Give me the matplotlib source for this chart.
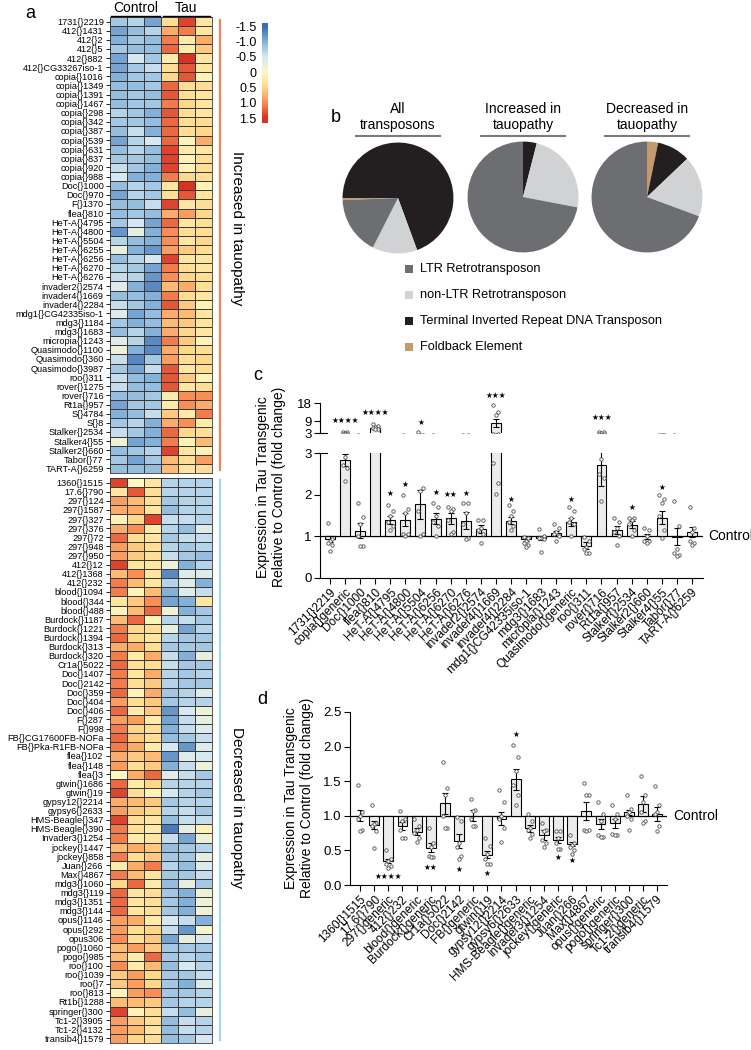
import numpy as np
import matplotlib.pyplot as plt
from matplotlib.colors import LinearSegmentedColormap
from matplotlib.lines import Line2D
from matplotlib.patches import Rectangle

plt.rcParams['font.family'] = ['Liberation Sans', 'DejaVu Sans']

W, H = 751, 1050

# ---------------- data: heatmap (a) ----------------
up_names = ["1731{}2219", "412{}1431", "412{}2", "412{}5", "412{}882", "412{}CG33267iso-1",
            "copia{}1016", "copia{}1349", "copia{}1391", "copia{}1467", "copia{}298", "copia{}342",
            "copia{}387", "copia{}539", "copia{}631", "copia{}837", "copia{}920", "copia{}988",
            "Doc{}1000", "Doc{}970", "F{}1370", "flea{}810", "HeT-A{}4795", "HeT-A{}4800",
            "HeT-A{}5504", "HeT-A{}6255", "HeT-A{}6256", "HeT-A{}6270", "HeT-A{}6276",
            "invader2{}2574", "invader4{}1669", "invader4{}2284", "mdg1{}CG42335iso-1",
            "mdg3{}1184", "mdg3{}1683", "micropia{}1243", "Quasimodo{}1100", "Quasimodo{}360",
            "Quasimodo{}3987", "roo{}311", "rover{}1275", "rover{}716", "Rt1a{}957", "S{}4784",
            "S{}8", "Stalker{}2534", "Stalker4{}55", "Stalker2{}660", "Tabor{}77", "TART-A{}6259"]
up_vals = [
    [-0.8, -0.7, -1.1, 0.4, 1.4, 0.3], [-1.1, -0.9, -0.7, 0.8, 1.1, 0.3],
    [-1.0, -0.8, -0.9, 1.1, 0.2, 0.8], [-0.8, -0.9, -0.9, 1.2, 0.2, 0.6],
    [-1.1, -0.5, -0.8, 0.2, 1.5, 0.3], [-1.1, -0.8, -0.6, 0.4, 1.3, 0.3],
    [-1.0, -0.8, -0.8, 0.5, 1.3, 0.1], [-0.9, -0.9, -0.8, 1.2, 0.4, 0.4],
    [-0.9, -0.8, -0.9, 1.3, 0.4, 0.3], [-0.9, -0.8, -0.8, 1.1, 0.5, 0.3],
    [-0.7, -0.8, -1.0, 1.3, 0.4, 0.3], [-0.8, -0.8, -0.9, 1.2, 0.4, 0.4],
    [-0.9, -0.6, -1.0, 1.2, 0.4, 0.5], [-1.1, -0.7, -0.5, 1.2, 0.1, 0.8],
    [-0.9, -0.7, -0.9, 1.4, 0.2, 0.3], [-0.8, -0.8, -0.9, 1.4, 0.1, 0.4],
    [-0.6, -0.8, -1.0, 1.4, 0.1, 0.4], [-0.5, -1.0, -1.0, 1.1, 0.5, 0.4],
    [-0.9, -0.7, -0.8, 0.3, 1.5, 0.1], [-1.1, -0.7, -0.8, 0.4, 1.3, 0.3],
    [-0.9, -0.9, -0.6, 1.4, 0.3, 0.4], [-0.9, -0.8, -0.9, 0.8, 0.9, 0.5],
    [-0.8, -0.5, -1.1, 1.2, 0.3, 0.4], [-1.2, -0.3, -1.0, 1.0, 0.4, 0.4],
    [-0.7, -0.9, -1.0, 1.0, 0.3, 0.5], [-0.3, -1.0, -1.2, 0.9, 0.6, 0.4],
    [-0.9, -0.7, -0.5, 1.4, 0.3, 0.3], [-0.7, -0.8, -1.1, 1.1, 0.4, 0.3],
    [-0.6, -0.7, -1.2, 1.0, 0.5, 0.4], [-0.4, -1.0, -1.3, 0.7, 0.8, 0.4],
    [-0.9, -0.9, -1.0, 1.1, 0.4, 0.3], [-0.6, -0.8, -1.0, 1.3, 0.6, 0.1],
    [-0.4, -1.1, -0.9, 0.8, 0.7, 0.3], [-0.8, -1.0, -0.9, 0.7, 0.6, 0.3],
    [-0.9, -0.7, -1.0, 0.8, 0.5, 0.3], [-0.4, -0.7, -1.3, 1.1, 0.6, 0.1],
    [-0.2, -1.0, -1.3, 0.8, 0.5, 0.4], [-0.6, -1.3, -0.8, 0.9, 0.4, 0.5],
    [-0.8, -1.1, -0.6, 1.3, 0.3, 0.4], [-0.6, -0.9, -1.0, 1.3, 0.6, 0.1],
    [-0.6, -0.9, -0.9, 1.3, 0.3, 0.4], [-0.9, -0.9, -0.8, 0.2, 1.0, 1.0],
    [-1.1, -0.8, -0.8, 0.2, 1.0, 0.8], [-1.0, -0.9, -0.6, 0.6, 0.2, 1.1],
    [-0.8, -0.7, -1.0, 0.8, 1.0, 0.2], [-0.6, -0.8, -1.0, 1.2, 0.5, 0.4],
    [-0.2, -1.1, -1.0, 1.1, 0.1, 0.7], [-0.9, -0.8, -0.7, 1.4, 0.3, 0.1],
    [-0.8, -1.1, -0.8, 0.7, 0.4, 0.9], [-0.9, -0.9, -0.9, 0.7, 0.3, 0.4]]

down_names = ["1360{}1515", "17.6{}790", "297{}124", "297{}1587", "297{}327", "297{}376",
              "297{}72", "297{}948", "297{}950", "412{}12", "412{}1368", "412{}232",
              "blood{}1094", "blood{}344", "blood{}488", "Burdock{}1187", "Burdock{}1221",
              "Burdock{}1394", "Burdock{}313", "Burdock{}320", "Cr1a{}5022", "Doc{}1407",
              "Doc{}2142", "Doc{}359", "Doc{}404", "Doc{}406", "F{}287", "F{}998",
              "FB{}CG17600FB-NOFa", "FB{}Pka-R1FB-NOFa", "flea{}102", "flea{}148", "flea{}3",
              "gtwin{}1686", "gtwin{}19", "gypsy12{}2214", "gypsy6{}2633", "HMS-Beagle{}347",
              "HMS-Beagle{}390", "Invader3{}1254", "jockey{}1447", "jockey{}858", "Juan{}266",
              "Max{}4867", "mdg3{}1060", "mdg3{}119", "mdg3{}1351", "mdg3{}144", "opus{}1146",
              "opus{}292", "opus306", "pogo{}1060", "pogo{}985", "roo{}100", "roo{}1039",
              "roo{}7", "roo{}813", "Rt1b{}1288", "springer{}300", "Tc1-2{}3905",
              "Tc1-2{}4132", "transib4{}1579"]
down_vals = [
    [1.4, 0.0, 0.3, -0.7, -0.7, -0.7], [0.3, 1.3, 0.4, -0.7, -0.7, -0.7],
    [0.9, 0.7, 0.4, -0.8, -0.7, -0.7], [0.8, 0.8, 0.3, -0.9, -0.7, -0.7],
    [0.1, 0.5, 1.4, -0.6, -0.6, -0.7], [0.8, 1.0, 0.2, -0.7, -0.9, -0.4],
    [1.2, 0.4, 0.3, -0.8, -0.6, -0.6], [0.9, 0.6, 0.4, -0.7, -0.8, -0.7],
    [0.9, 0.6, 0.4, -0.6, -0.8, -0.9], [1.4, 0.3, 0.3, -0.2, -1.0, -0.7],
    [0.7, 1.0, 0.3, -1.3, -0.4, -0.4], [1.1, 0.7, 0.3, -0.7, -0.4, -1.0],
    [1.1, 0.1, 0.7, -1.0, -0.4, -0.6], [0.3, 0.6, 1.0, -1.1, -1.0, 0.3],
    [0.1, 0.7, 1.2, -0.2, -1.0, -0.8], [0.7, 1.2, 0.1, -0.7, -0.6, -0.8],
    [1.1, 0.5, 0.4, -0.3, -1.1, -0.7], [1.2, 0.5, 0.3, -0.7, -0.8, -0.8],
    [0.8, 0.8, 0.4, -0.8, -0.8, -0.8], [1.1, 0.2, 0.8, -0.6, -1.0, -0.3],
    [1.2, 0.4, 0.4, -0.6, -0.8, -0.8], [1.1, 0.3, 0.8, -0.7, -0.8, -0.7],
    [1.1, 0.4, 0.6, -0.7, -0.8, -0.8], [1.2, 0.1, 0.8, -0.8, -0.7, -0.4],
    [0.9, 0.4, 0.6, -0.8, -0.7, -0.7], [1.2, 0.2, 0.6, -1.2, -0.5, -0.2],
    [0.9, 0.9, 0.2, -1.1, -0.6, -0.3], [1.1, 0.5, 0.4, -1.0, -0.6, -0.4],
    [1.2, 0.6, 0.4, -0.9, -0.8, -0.6], [1.1, 0.8, 0.2, -0.5, -1.2, -0.4],
    [0.8, 0.6, 0.7, -1.2, -0.4, -0.5], [0.9, 0.4, 0.6, -1.0, -0.6, -0.2],
    [0.0, 0.8, 1.2, -0.4, -0.6, -0.8], [1.2, 0.2, 0.5, -0.7, -0.7, -0.7],
    [1.4, 0.4, 0.1, -0.5, -0.7, -0.8], [0.8, 0.7, 0.6, -0.8, -0.7, -0.7],
    [0.9, 0.6, 0.5, -0.7, -0.6, -0.8], [1.4, 0.4, 0.3, -0.9, -0.6, -0.6],
    [1.1, 0.4, 0.2, -1.4, -0.3, 0.1], [1.1, 0.2, 0.3, -0.6, -1.1, -0.2],
    [0.7, 0.8, 0.6, -0.9, -0.8, -0.7], [1.1, 0.4, 0.6, -0.8, -0.8, -0.3],
    [0.2, 0.8, 1.1, -0.7, -0.9, -0.4], [1.1, 0.7, 0.3, -0.8, -0.8, -0.6],
    [0.5, 1.2, 0.2, -0.9, -0.3, -0.8], [1.2, 0.3, 0.4, -0.8, -1.0, -0.2],
    [1.2, 0.3, 0.4, -0.8, -1.0, -0.2], [1.2, 0.3, 0.4, -0.8, -1.0, -0.2],
    [0.9, 0.8, 0.2, -0.5, -0.6, -1.0], [0.9, 0.4, 0.5, -0.6, -1.2, -0.1],
    [1.0, 0.4, 0.6, -1.1, -0.3, -0.5], [0.7, 0.9, 0.6, -0.8, -0.8, -0.8],
    [0.7, 0.2, 1.2, -0.8, -0.7, -0.8], [1.0, 0.2, 0.7, -0.9, -0.5, -0.7],
    [0.6, 0.9, 0.5, -0.8, -0.8, -0.6], [0.6, 0.9, 0.5, -0.8, -1.0, -0.4],
    [0.1, 0.9, 1.0, -0.8, -0.8, -0.7], [0.7, 0.7, 0.6, -0.8, -0.7, -0.7],
    [1.4, 0.1, 0.4, -0.6, -0.9, -0.3], [0.9, 0.6, 0.4, -0.9, -0.6, -0.7],
    [0.9, 0.7, 0.3, -0.9, -0.6, -0.7], [0.9, 0.5, 0.4, -0.9, -0.8, -0.5]]

cbar_ticks = [-1.5, -1.0, -0.5, 0, 0.5, 1.0, 1.5]
cbar_labels = ["-1.5", "-1.0", "-0.5", "0", "0.5", "1.0", "1.5"]

# ---------------- data: pies (b) ----------------
pie_classes = ["Foldback Element", "Terminal Inverted Repeat DNA Transposon",
               "non-LTR Retrotransposon", "LTR Retrotransposon"]
pie_all = [0.6, 69.4, 13.1, 16.9]
pie_up = [0, 2, 12, 36]
pie_down = [2, 6, 11, 43]
pie_titles = ["All\ntransposons", "Increased in\ntauopathy", "Decreased in\ntauopathy"]
legend_order = ["LTR Retrotransposon", "non-LTR Retrotransposon",
                "Terminal Inverted Repeat DNA Transposon", "Foldback Element"]

# ---------------- data: bars (c) ----------------
c_names = ["1731{}2219", "copia{}generic", "Doc{}1000", "flea{}810", "HeT-A{}4795",
           "HeT-A{}4800", "HeT-A{}5504", "HeT-A{}6256", "HeT-A{}6270", "HeT-A{}6276",
           "invader2{}2574", "invader4{}1669", "invader4{}2284", "mdg1{}CG42335iso-1",
           "mdg3{}1683", "micropia{}1243", "Quasimodo{}generic", "roo{}311", "rover{}716",
           "Rt1a{}957", "Stalker{}2534", "Stalker2{}660", "Stalker4{}55", "Tabor{}77",
           "TART-A{}6259"]
c_mean = [0.93, 2.83, 1.13, 5.5, 1.4, 1.4, 1.77, 1.42, 1.43, 1.38, 1.17, 8.2, 1.38, 0.93,
          0.97, 1.08, 1.35, 0.78, 2.72, 1.15, 1.28, 1.0, 1.45, 0.99, 1.1]
c_sem = [0.07, 0.15, 0.18, 0.5, 0.1, 0.15, 0.35, 0.13, 0.13, 0.2, 0.1, 2.0, 0.08, 0.04,
         0.05, 0.06, 0.1, 0.08, 0.5, 0.1, 0.08, 0.06, 0.15, 0.2, 0.12]
c_pts = [[1.31, 0.93, 0.88, 0.85, 0.8, 0.64], [3.4, 3.4, 2.91, 2.71, 2.63, 2.33],
         [1.8, 1.46, 1.3, 1.0, 0.78, 0.78], [7.5, 6.5, 6.0, 5.5, 5.2, 5.0],
         [1.75, 1.6, 1.5, 1.35, 1.25, 1.15], [2.0, 1.65, 1.55, 1.05, 1.05, 1.0],
         [3.3, 2.15, 2.1, 1.6, 1.05, 1.0], [1.8, 1.7, 1.5, 1.35, 1.25, 1.0],
         [1.7, 1.65, 1.6, 1.4, 1.1, 1.05], [1.8, 1.8, 1.55, 1.3, 0.95, 0.93],
         [1.4, 1.4, 1.2, 1.15, 1.05, 0.85], [16.9, 13.5, 12.0, 2.75, 2.27, 2.02],
         [1.75, 1.6, 1.5, 1.35, 1.25, 1.15], [0.98, 0.95, 0.9, 0.85, 0.8, 0.75],
         [1.17, 1.0, 0.97, 0.95, 0.93, 0.62], [1.3, 1.2, 1.1, 1.05, 1.0, 0.9],
         [1.7, 1.6, 1.45, 1.35, 1.3, 1.0], [0.98, 0.9, 0.75, 0.7, 0.6, 0.6],
         [3.4, 3.4, 2.85, 2.5, 2.4, 1.85], [1.45, 1.35, 1.2, 1.1, 1.0, 0.8],
         [1.45, 1.45, 1.4, 1.3, 1.15, 1.0], [1.2, 1.15, 1.0, 0.9, 0.88, 0.85],
         [2.0, 1.9, 1.8, 1.5, 1.15, 0.95], [1.85, 1.25, 0.7, 0.6, 0.55, 0.53],
         [1.7, 1.2, 1.1, 0.9, 0.85, 0.8]]
c_star_idx = [1, 3, 4, 5, 6, 7, 8, 9, 11, 12, 16, 18, 20, 22]
c_star_txt = ["****", "****", "*", "*", "*", "*", "**", "*", "***", "*", "*", "***", "*", "*"]
c_star_y = [9.5, 13.2, 2.02, 2.25, 8.2, 2.06, 2.0, 2.04, 21.8, 1.89, 1.89, 10.6, 1.69, 2.17]

# ---------------- data: bars (d) ----------------
d_names = ["1360{}1515", "17.6{}790", "297{}generic", "412{}232", "blood{}generic",
           "Burdock{}generic", "Cr1a{}5022", "Doc{}2142", "FB{}generic", "gtwin{}19",
           "gypsy12{}2214", "gypsy6{}2633", "HMS-Beagle{}generic", "Invader3{}1254",
           "jockey{}generic", "Juan{}266", "Max{}4867", "opus{}generic", "pogo{}generic",
           "springer{}300", "Tc1-2{}generic", "transib4{}1579"]
d_mean = [1.0, 0.87, 0.35, 0.85, 0.77, 0.54, 1.18, 0.64, 1.0, 0.44, 0.96, 1.53, 0.82, 0.72,
          0.65, 0.59, 1.07, 0.88, 0.89, 1.05, 1.17, 1.03]
d_sem = [0.08, 0.06, 0.03, 0.06, 0.05, 0.07, 0.15, 0.1, 0.08, 0.05, 0.1, 0.15, 0.05, 0.07,
         0.05, 0.03, 0.13, 0.07, 0.07, 0.04, 0.11, 0.1]
d_pts = [[1.45, 1.05, 1.0, 0.95, 0.8, 0.78], [1.15, 0.9, 0.88, 0.85, 0.78, 0.53],
         [0.5, 0.38, 0.35, 0.3, 0.28, 0.25], [1.07, 0.95, 0.92, 0.8, 0.68, 0.68],
         [0.95, 0.85, 0.8, 0.75, 0.68, 0.62], [0.82, 0.6, 0.55, 0.42, 0.4, 0.4],
         [1.78, 1.4, 1.3, 1.0, 0.83, 0.83], [0.98, 0.92, 0.6, 0.55, 0.42, 0.38],
         [1.25, 1.08, 1.07, 0.95, 0.85, 0.85], [0.68, 0.57, 0.45, 0.38, 0.3, 0.3],
         [1.37, 1.2, 1.0, 0.95, 0.82, 0.62], [2.02, 1.85, 1.65, 1.45, 1.3, 1.15],
         [1.03, 0.92, 0.82, 0.8, 0.73, 0.68], [0.9, 0.8, 0.78, 0.65, 0.6, 0.55],
         [0.78, 0.78, 0.68, 0.6, 0.52, 0.52], [0.72, 0.6, 0.58, 0.55, 0.5, 0.45],
         [1.47, 1.3, 1.3, 0.8, 0.8, 0.78], [1.2, 1.02, 0.92, 0.72, 0.7, 0.7],
         [1.16, 1.03, 0.95, 0.73, 0.72, 0.72], [1.3, 1.1, 1.06, 1.0, 0.95, 0.8],
         [1.58, 1.3, 1.2, 1.05, 0.92, 0.9], [1.43, 1.15, 1.05, 1.02, 0.85, 0.78]]
d_star_idx = [2, 5, 7, 9, 11, 14, 15]
d_star_txt = ["****", "**", "*", "*", "*", "*", "*"]
d_star_y = [0.12, 0.25, 0.23, 0.16, 2.18, 0.4, 0.35]


def box(x0, y0, x1, y1):
    return [x0 / W, 1 - y1 / H, (x1 - x0) / W, (y1 - y0) / H]


def ftext(x, y, s, **kw):
    fig.text(x / W, 1 - y / H, s, **kw)


def fline(xs, ys, **kw):
    fig.add_artist(Line2D([x / W for x in xs], [1 - y / H for y in ys], **kw))


fig = plt.figure(figsize=(W / 100, H / 100), dpi=100)

cmap = LinearSegmentedColormap.from_list(
    'tau', ['#3a6db5', '#84b2d9', '#d6e9f3', '#fdf8c2', '#fed88a', '#f98e56', '#d93223'])

# ---------------- panel a ----------------
for names, vals, (y0, y1) in [(up_names, up_vals, (17, 473)), (down_names, down_vals, (478, 1043))]:
    ax = fig.add_axes(box(110, y0, 212, y1))
    ax.pcolormesh(np.array(vals), cmap=cmap, vmin=-1.5, vmax=1.5,
                  edgecolors='#3a3a3a', linewidth=0.5)
    ax.set_ylim(len(names), 0)
    ax.set_xlim(0, 6)
    ax.set_yticks(np.arange(len(names)) + 0.5)
    ax.set_yticklabels(names, fontsize=6.6)
    ax.set_xticks([])
    ax.tick_params(axis='y', length=3, width=0.6, pad=1.5)
    for s in ax.spines.values():
        s.set_linewidth(0.6)
        s.set_color('#3a3a3a')

ftext(30, 13, "a", fontsize=13, ha='center', va='center')
ftext(136, 8, "Control", fontsize=10, ha='center', va='center')
ftext(186, 8, "Tau", fontsize=10, ha='center', va='center')
fline([111, 160], [15.5, 15.5], color='black', lw=1)
fline([163, 210], [15.5, 15.5], color='black', lw=1)
fline([220, 220], [20, 470], color='#f4835d', lw=1.6)
fline([220, 220], [480, 1040], color='#a2d8ee', lw=1.6)
ftext(237, 228, "Increased in tauopathy", fontsize=11, rotation=-90, ha='center', va='center')
ftext(237, 808, "Decreased in tauopathy", fontsize=11, rotation=-90, ha='center', va='center')

cax = fig.add_axes(box(262, 23, 268, 123))
grad = np.linspace(-1.6, 1.66, 200).reshape(-1, 1)
cax.imshow(grad, cmap=cmap, vmin=-1.5, vmax=1.5, aspect='auto',
           extent=[0, 1, 1.66, -1.6])
cax.set_ylim(1.66, -1.6)
cax.set_xticks([])
cax.set_yticks(cbar_ticks)
cax.set_yticklabels(cbar_labels, fontsize=9)
cax.tick_params(axis='y', length=0, pad=4)
for s in cax.spines.values():
    s.set_visible(False)

# ---------------- panel b ----------------
pie_colors = ['#c49a6c', '#231f20', '#d1d2d4', '#6d6e71']
class_color = dict(zip(pie_classes, pie_colors))
pie_centers = [(398, 198), (523, 197), (647, 197)]
pie_start = [180 + 360 * pie_all[0] / sum(pie_all), 90, 90]
for vals, (cx, cy), st, title in zip([pie_all, pie_up, pie_down], pie_centers, pie_start, pie_titles):
    pax = fig.add_axes(box(cx - 56, cy - 56, cx + 56, cy + 56))
    pax.pie(vals, colors=pie_colors, startangle=st, counterclock=False, radius=1,
            wedgeprops=dict(linewidth=0))
    pax.set_xlim(-1.01, 1.01)
    pax.set_ylim(-1.01, 1.01)
    ftext(cx, 117, title, fontsize=10, ha='center', va='center', linespacing=1.15)
    fline([cx - 42, cx + 42], [136, 136], color='#7a7a7a', lw=1.5)

ftext(336, 117, "b", fontsize=13, ha='center', va='center')
for k, name in enumerate(legend_order):
    ly = 269 + k * 26
    fig.add_artist(Rectangle((405 / W, 1 - (ly + 4) / H), 8 / W, 8 / H,
                             facecolor=class_color[name], edgecolor='none'))
    ftext(420, ly, name, fontsize=9.2, ha='left', va='center')

# ---------------- bars helper ----------------
jit = np.array([-0.16, 0.16, 0.0, -0.16, 0.16, 0.0])


def draw_bars(ax, means, sems, pts, w):
    x = np.arange(len(means))
    m = np.array(means)
    ax.axhline(1, color='black', lw=0.9, zorder=1)
    ax.bar(x, m - 1, bottom=1, width=w, color='#ececec', edgecolor='black',
           linewidth=0.8, zorder=2)
    ax.errorbar(x, m, yerr=sems, fmt='none', ecolor='black', elinewidth=0.8,
                capsize=2.2, capthick=0.8, zorder=3)
    for i, p in enumerate(pts):
        ax.scatter(i + jit[:len(p)], p, s=6, facecolors='white', edgecolors='#4d4d4d',
                   linewidths=0.6, zorder=4)
    for s in ['top', 'right']:
        ax.spines[s].set_visible(False)
    ax.tick_params(axis='both', length=4, width=0.8, labelsize=9.5, pad=2)


def star(ax, x, y, t):
    ax.text(x, y, "\u2605" * len(t), fontsize=5.5, ha='center', va='center',
            family='DejaVu Sans', clip_on=False)


# ---------------- panel c ----------------
c_xlim = (-0.66, 24.73)
ax_t = fig.add_axes(box(320, 403, 703, 433))
ax_b = fig.add_axes(box(320, 453, 703, 578))
draw_bars(ax_t, c_mean, c_sem, c_pts, 0.66)
draw_bars(ax_b, c_mean, c_sem, c_pts, 0.66)
ax_t.set_ylim(3, 18)
ax_t.set_yticks([3, 9, 18])
ax_t.spines['bottom'].set_visible(False)
ax_t.set_xticks([])
ax_t.set_xlim(*c_xlim)
ax_b.set_ylim(0, 3)
ax_b.set_yticks([0, 1, 2, 3])
ax_b.set_xlim(*c_xlim)
ax_b.set_xticks(np.arange(len(c_names)))
ax_b.set_xticklabels(c_names, rotation=45, ha='right', rotation_mode='anchor', fontsize=8.6)
for i, t, y in zip(c_star_idx, c_star_txt, c_star_y):
    star(ax_t if y > 3 else ax_b, i, y, t)
fline([320, 327], [433, 433], color='black', lw=0.8)
fline([320, 327], [453, 453], color='black', lw=0.8)
ftext(708, 536, "Control", fontsize=10, ha='left', va='center')
ftext(258, 375, "c", fontsize=13, ha='center', va='center')
ftext(271, 487, "Expression in Tau Transgenic\nRelative to Control (fold change)",
      fontsize=10, rotation=90, ha='center', va='center', linespacing=1.15)

# ---------------- panel d ----------------
ax_d = fig.add_axes(box(350, 712, 667, 885))
draw_bars(ax_d, d_mean, d_sem, d_pts, 0.7)
ax_d.set_ylim(0, 2.5)
ax_d.set_yticks([0, 0.5, 1.0, 1.5, 2.0, 2.5])
ax_d.set_yticklabels(["0.0", "0.5", "1.0", "1.5", "2.0", "2.5"])
ax_d.set_xlim(-0.71, 21.7)
ax_d.set_xticks(np.arange(len(d_names)))
ax_d.set_xticklabels(d_names, rotation=45, ha='right', rotation_mode='anchor', fontsize=8.6)
for i, t, y in zip(d_star_idx, d_star_txt, d_star_y):
    star(ax_d, i, y, t)
ftext(673, 816, "Control", fontsize=10, ha='left', va='center')
ftext(262, 700, "d", fontsize=13, ha='center', va='center')
ftext(299, 798, "Expression in Tau Transgenic\nRelative to Control (fold change)",
      fontsize=10, rotation=90, ha='center', va='center', linespacing=1.2)

fig.savefig("out.png", dpi=100)
